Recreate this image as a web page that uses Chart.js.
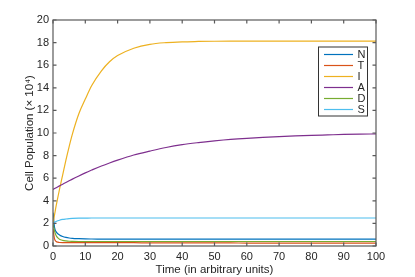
<!DOCTYPE html>
<html>
<head>
<meta charset="utf-8">
<script src="https://cdn.jsdelivr.net/npm/chart.js@4/dist/chart.umd.min.js"></script>
<style>
html,body{margin:0;padding:0;background:#fff;}
#wrap{width:415px;height:277px;position:relative;}
</style>
</head>
<body>
<div id="wrap"><canvas id="c" width="415" height="277"></canvas></div>
<script>
const times = [0,0.5,1,1.5,2,3,4,5,6,8,10,12,15,17.5,20,25,30,35,40,45,50,55,60,65,70,75,80,85,90,95,100];
const seriesN = [2.95,1.6,1.25,1.08,0.98,0.84,0.76,0.71,0.68,0.65,0.63,0.62,0.61,0.6,0.6,0.6,0.6,0.6,0.6,0.6,0.6,0.6,0.6,0.6,0.6,0.6,0.6,0.6,0.6,0.6,0.6];
const seriesT = [1.5,0.6,0.4,0.34,0.31,0.3,0.3,0.3,0.3,0.3,0.3,0.3,0.3,0.3,0.29,0.29,0.28,0.28,0.28,0.27,0.27,0.27,0.26,0.26,0.26,0.26,0.25,0.25,0.25,0.25,0.25];
const seriesI = [2.0,2.8,3.6,4.3,5.0,6.3,7.6,8.8,9.9,11.7,13.0,14.2,15.5,16.3,16.85,17.5,17.85,18.0,18.07,18.1,18.12,18.13,18.13,18.13,18.13,18.13,18.13,18.13,18.13,18.13,18.13];
const seriesA = [5.0,5.08,5.16,5.24,5.32,5.47,5.62,5.77,5.92,6.2,6.47,6.72,7.08,7.35,7.6,8.05,8.4,8.72,8.97,9.15,9.3,9.43,9.53,9.61,9.68,9.74,9.79,9.83,9.87,9.9,9.92];
const seriesD = [2.0,1.3,0.9,0.72,0.6,0.5,0.45,0.42,0.41,0.4,0.4,0.4,0.4,0.4,0.4,0.4,0.4,0.4,0.4,0.4,0.4,0.4,0.4,0.4,0.4,0.4,0.4,0.4,0.4,0.4,0.4];
const seriesS = [2.0,2.1,2.17,2.23,2.28,2.35,2.39,2.42,2.44,2.46,2.47,2.48,2.48,2.48,2.48,2.48,2.48,2.48,2.48,2.48,2.48,2.48,2.48,2.48,2.48,2.48,2.48,2.48,2.48,2.48,2.48];
const seriesNames = ['N','T','I','A','D','S'];
const seriesColors = ['#0072BD','#D95319','#EDB120','#7E2F8E','#77AC30','#4DBEEE'];
const xTicks = [0,10,20,30,40,50,60,70,80,90,100];
const yTicks = [0,2,4,6,8,10,12,14,16,18,20];

const allSeries = [seriesN, seriesT, seriesI, seriesA, seriesD, seriesS];
const FONT = '"Liberation Sans", Arial, Helvetica, sans-serif';
const AXC = '#5a5a5a';

const datasets = allSeries.map((s, i) => ({
  label: seriesNames[i],
  data: times.map((t, k) => ({x: t, y: s[k]})),
  borderColor: seriesColors[i],
  backgroundColor: seriesColors[i],
  borderWidth: 1.2,
  pointRadius: 0,
  cubicInterpolationMode: 'monotone',
  fill: false,
  order: allSeries.length - i
}));

const boxPlugin = {
  id: 'boxTicks',
  afterDatasetsDraw(chart) {
    const ctx = chart.ctx, a = chart.chartArea;
    const xs = chart.scales.x, ys = chart.scales.y;
    ctx.save();
    ctx.strokeStyle = AXC;
    ctx.lineWidth = 1.2;
    ctx.strokeRect(a.left, a.top, a.right - a.left, a.bottom - a.top);
    const tl = 3.5;
    ctx.beginPath();
    xTicks.forEach(v => {
      const px = xs.getPixelForValue(v);
      ctx.moveTo(px, a.bottom); ctx.lineTo(px, a.bottom - tl);
      ctx.moveTo(px, a.top); ctx.lineTo(px, a.top + tl);
    });
    yTicks.forEach(v => {
      const py = ys.getPixelForValue(v);
      ctx.moveTo(a.left, py); ctx.lineTo(a.left + tl, py);
      ctx.moveTo(a.right, py); ctx.lineTo(a.right - tl, py);
    });
    ctx.stroke();
    // legend
    const L = 318.5, T = 47, R = 367.5, B = 116;
    ctx.fillStyle = '#fff';
    ctx.fillRect(L, T, R - L, B - T);
    ctx.strokeStyle = '#333';
    ctx.lineWidth = 1;
    ctx.strokeRect(L, T, R - L, B - T);
    ctx.font = '11px ' + FONT;
    ctx.textBaseline = 'middle';
    ctx.textAlign = 'left';
    chart.data.datasets.forEach((d, i) => {
      const y = 54.5 + i * 11;
      ctx.strokeStyle = d.borderColor;
      ctx.lineWidth = 1.2;
      ctx.beginPath();
      ctx.moveTo(324, y); ctx.lineTo(353, y);
      ctx.stroke();
      ctx.fillStyle = '#262626';
      ctx.fillText(d.label, 357.5, y + 0.5);
    });
    ctx.restore();
  }
};

new Chart(document.getElementById('c'), {
  type: 'line',
  data: { datasets },
  options: {
    responsive: false,
    animation: false,
    devicePixelRatio: 1,
    layout: { padding: { left: 23, right: 39, top: 20, bottom: 0 } },
    plugins: { legend: { display: false }, tooltip: { enabled: false } },
    scales: {
      x: {
        type: 'linear', min: 0, max: 100,
        afterBuildTicks: s => { s.ticks = xTicks.map(v => ({value: v})); },
        afterFit: s => { s.height = 31; },
        grid: { display: false, drawTicks: false, tickLength: 0 },
        border: { display: false },
        ticks: { color: '#262626', font: { family: FONT, size: 11 }, padding: 4, maxRotation: 0 },
        title: { display: true, text: 'Time (in arbitrary units)', color: '#262626', font: { family: FONT, size: 11.5 }, padding: 0 }
      },
      y: {
        type: 'linear', min: 0, max: 20,
        afterBuildTicks: s => { s.ticks = yTicks.map(v => ({value: v})); },
        afterFit: s => { s.width = 30; },
        grid: { display: false, drawTicks: false, tickLength: 0 },
        border: { display: false },
        ticks: { color: '#262626', font: { family: FONT, size: 11 }, padding: 4 },
        title: { display: true, text: 'Cell Population (× 10⁴)', color: '#262626', font: { family: FONT, size: 11.5 }, padding: 0 }
      }
    }
  },
  plugins: [boxPlugin]
});
</script>
</body>
</html>
